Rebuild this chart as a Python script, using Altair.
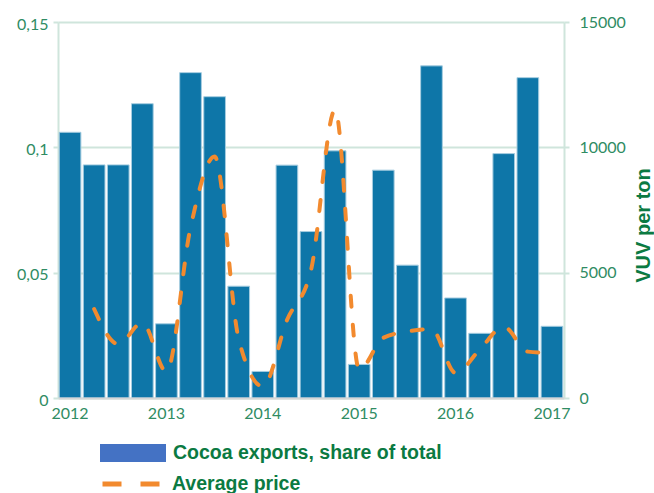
import altair as alt
import pandas as pd

quarters = ["2012 Q1", "2012 Q2", "2012 Q3", "2012 Q4",
            "2013 Q1", "2013 Q2", "2013 Q3", "2013 Q4",
            "2014 Q1", "2014 Q2", "2014 Q3", "2014 Q4",
            "2015 Q1", "2015 Q2", "2015 Q3", "2015 Q4",
            "2016 Q1", "2016 Q2", "2016 Q3", "2016 Q4",
            "2017 Q1"]
share = [0.106, 0.093, 0.093, 0.1174, 0.0296, 0.1298, 0.1202, 0.0446,
         0.0106, 0.0929, 0.0664, 0.0986, 0.0134, 0.0909, 0.053, 0.1325,
         0.0399, 0.0258, 0.0975, 0.1278, 0.0286]
price = [None, 3550, 2150, 3000, 1050, 6800, 9630, 2350,
         460, 3100, 5100, 11500, 1130, 2400, 2650, 2750,
         1000, 1930, 2840, 1850, 1800]
year_ticks = ["2012 Q1", "2013 Q1", "2014 Q1", "2015 Q1", "2016 Q1", "2017 Q1"]
share_ticks = [0, 0.05, 0.1, 0.15]
price_ticks = [0, 5000, 10000, 15000]
bar_label = "Cocoa exports, share of total"
line_label = "Average price"

df = pd.DataFrame({"q": quarters, "share": share, "price": price})

GRID = "#cfe5dc"
LABEL = "#2f8c63"
DARK = "#0b7a42"
TICKFONT = "Lato"
BOLDFONT = "Liberation Sans"

xenc = alt.X("q:O", title=None,
             scale=alt.Scale(paddingInner=0.1, paddingOuter=0.05),
             axis=alt.Axis(values=year_ticks, labelExpr="substring(datum.label, 0, 4)",
                           labelAngle=0, ticks=False, domainColor="#d6d6d6", domainWidth=2,
                           labelFont=TICKFONT, labelFontSize=16, labelColor=LABEL,
                           labelPadding=7, grid=False, zindex=1))

bars = alt.Chart(df).mark_bar(color="#0e76a8", stroke="#a6cde0", strokeWidth=1).encode(
    x=xenc,
    y=alt.Y("share:Q", title=None,
            scale=alt.Scale(domain=[0, 0.15], nice=False),
            axis=alt.Axis(values=share_ticks, orient="left",
                          labelExpr="replace(format(datum.value, '.2~f'), '.', ',')",
                          grid=True, gridColor=GRID, gridWidth=2,
                          domainColor=GRID, domainWidth=2,
                          tickColor=GRID, tickWidth=2, tickSize=5,
                          labelFont=TICKFONT, labelFontSize=16, labelColor=LABEL,
                          labelPadding=5, labelOffset=2)),
)

legend_carrier = alt.Chart(pd.DataFrame({"k": [bar_label]})).mark_rect().encode(
    x=alt.value(0), x2=alt.value(0), y=alt.value(0), y2=alt.value(0),
    fill=alt.Fill("k:N", scale=alt.Scale(domain=[bar_label], range=["#4472c4"]),
                  legend=alt.Legend(orient="none", legendX=42, legendY=398, title=None,
                                    padding=0,
                                    symbolType="M-1,-0.2727H1V0.2727H-1Z",
                                    symbolSize=4356, symbolStrokeWidth=0,
                                    labelOffset=7, labelFont=BOLDFONT, labelFontSize=19.5,
                                    labelFontWeight="bold", labelColor=DARK, labelLimit=500)),
)

line = alt.Chart(df).mark_line(strokeWidth=4, strokeDash=[11, 18], strokeCap="round",
                               interpolate="monotone").encode(
    x=alt.X("q:O"),
    y=alt.Y("price:Q", title="VUV per ton",
            scale=alt.Scale(domain=[0, 15000], nice=False),
            axis=alt.Axis(values=price_ticks, orient="right", format="d",
                          grid=False, domainColor=GRID, domainWidth=2,
                          tickColor=GRID, tickWidth=2, tickSize=5,
                          labelFont=TICKFONT, labelFontSize=16, labelColor=LABEL,
                          labelPadding=10,
                          titleAngle=270, titleX=85, titleY=203, titleAlign="center",
                          titleBaseline="alphabetic", titleFont=BOLDFONT, titleFontSize=20,
                          titleFontWeight="bold", titleColor=DARK)),
    stroke=alt.Stroke("s:N", scale=alt.Scale(domain=[line_label], range=["#f28a2e"]),
                      legend=alt.Legend(orient="none", legendX=42, legendY=431, title=None,
                                        padding=0, symbolType="stroke", symbolSize=3249,
                                        symbolStrokeWidth=5, symbolDash=[19, 19],
                                        labelOffset=10, labelFont=BOLDFONT, labelFontSize=19.5,
                                        labelFontWeight="bold", labelColor=DARK, labelLimit=500)),
).transform_calculate(s=f"'{line_label}'")

chart = alt.layer(bars, line, legend_carrier).resolve_scale(
    y="independent", fill="independent", stroke="independent"
).properties(
    width=506, height=376,
    autosize=alt.AutoSizeParams(type="none"),
    padding={"left": 58, "top": 22, "right": 90, "bottom": 95},
).configure_view(stroke=None).configure_legend(symbolOpacity=1)

chart.save("out.html", embed_options={"renderer": "svg", "actions": False})
